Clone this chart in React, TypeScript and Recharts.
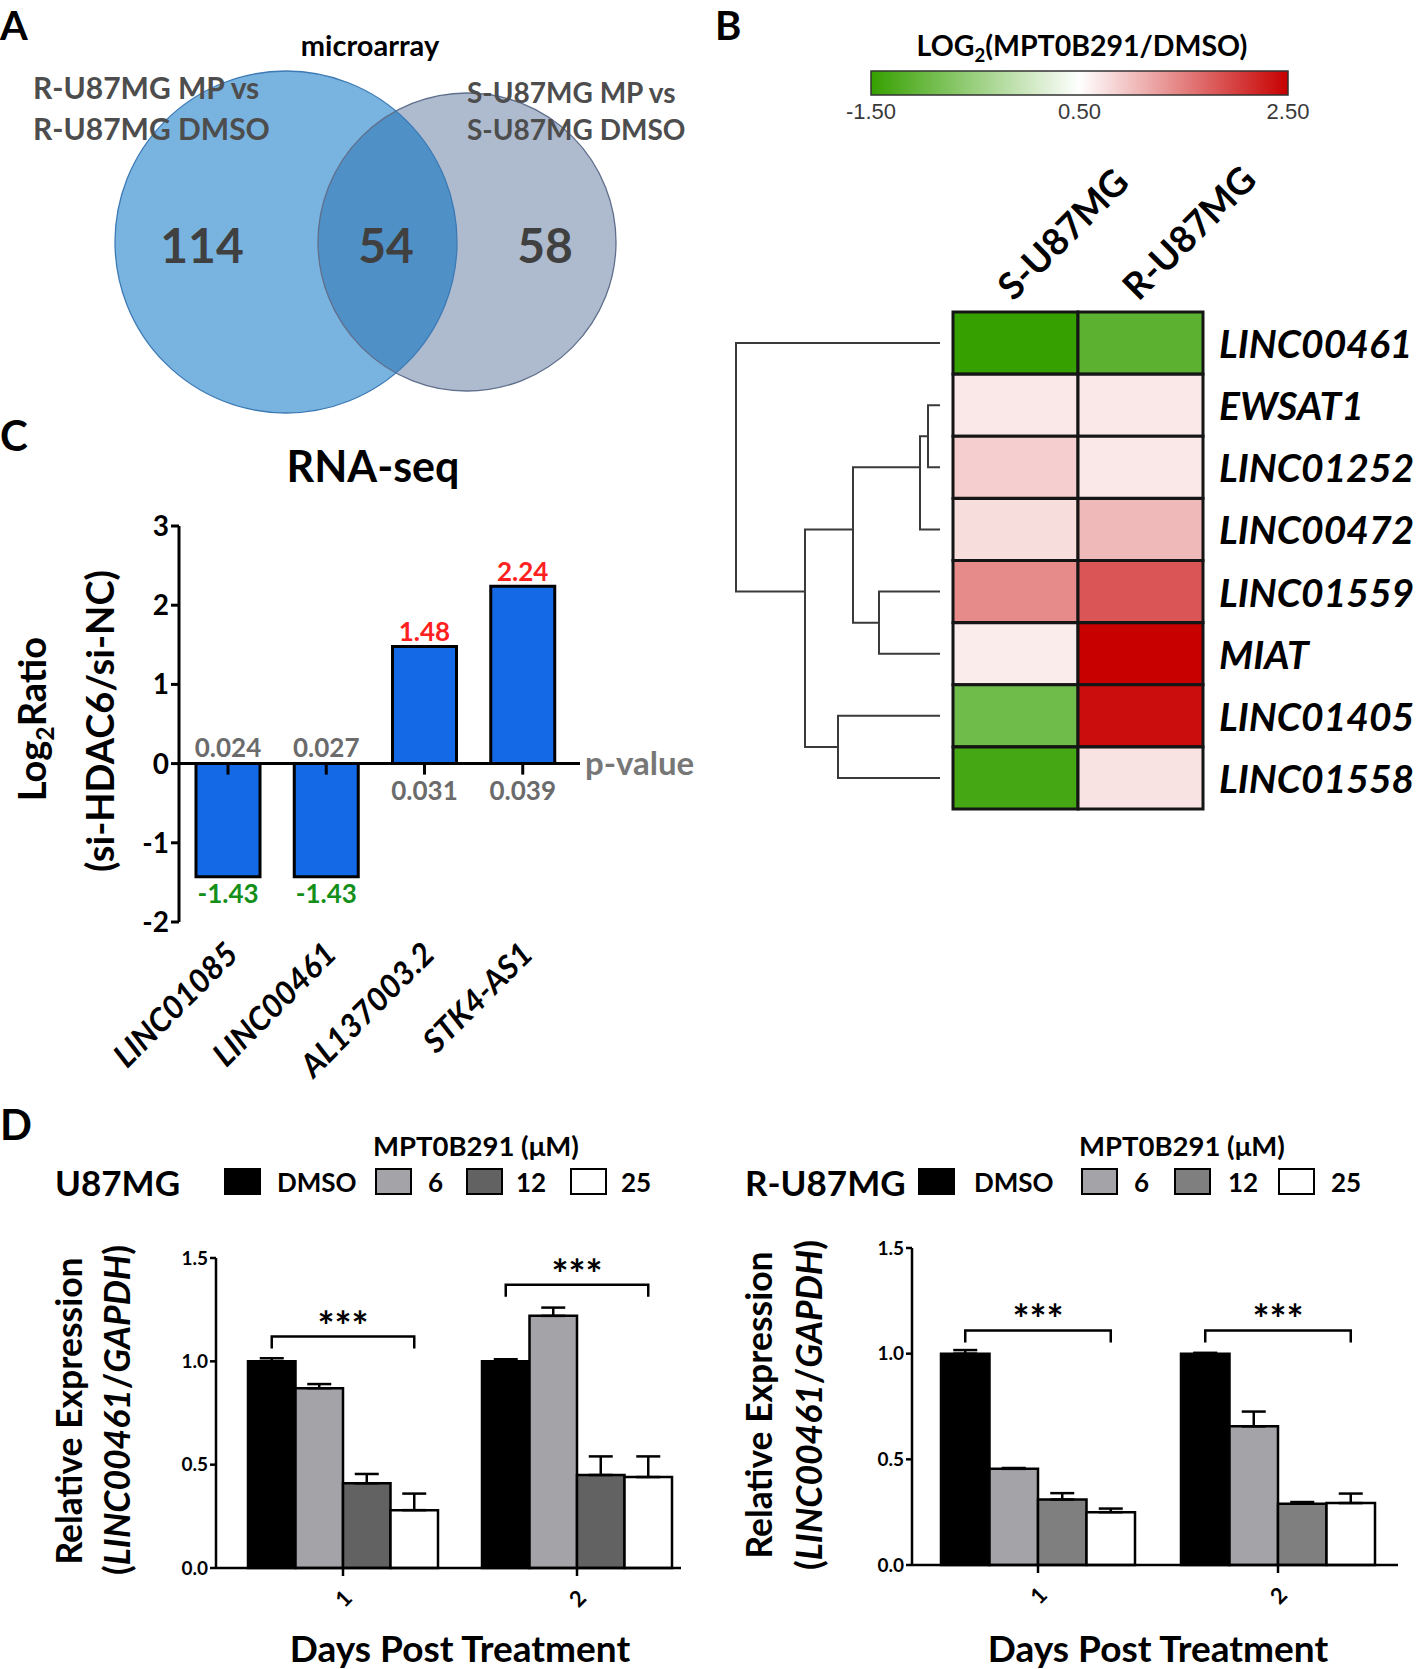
import React from 'react';
import {
  BarChart, Bar, XAxis, YAxis, Cell, LabelList, ErrorBar, ReferenceLine,
  ScatterChart, Scatter, ReferenceArea,
} from 'recharts';

const FONT = 'Lato, "Open Sans", sans-serif';

// A - microarray overlap
const vennSets = ['R-U87MG MP vs', 'R-U87MG DMSO', 'S-U87MG MP vs', 'S-U87MG DMSO'];
const vennCounts = [114, 54, 58]; // R only, both, S only

// B - heatmap
const heatCols = ['S-U87MG', 'R-U87MG'];
const heatGenes = ['LINC00461', 'EWSAT1', 'LINC01252', 'LINC00472', 'LINC01559', 'MIAT', 'LINC01405', 'LINC01558'];
const heatS = [-1.5, 0.68, 0.88, 0.77, 1.42, 0.65, -0.92, -1.35];
const heatR = [-1.12, 0.68, 0.68, 1.05, 1.83, 2.5, 2.4, 0.73];
const scaleTicks = [-1.5, 0.5, 2.5];
// [child a, child b, height]; leaves are 0..7, merged nodes numbered from 8
const dendroMerges = [[1, 2, 12], [8, 3, 20], [4, 5, 61], [9, 10, 87], [6, 7, 102], [11, 12, 135], [0, 13, 204]];

// C - RNA-seq
const rnaGenes = ['LINC01085', 'LINC00461', 'AL137003.2', 'STK4-AS1'];
const rnaRatio = [-1.43, -1.43, 1.48, 2.24];
const rnaP = ['0.024', '0.027', '0.031', '0.039'];

// D - qPCR
const days = ['1', '2'];
const doses = ['DMSO', '6', '12', '25'];
const u87Mean = [[1.0, 0.87, 0.41, 0.28], [1.0, 1.22, 0.45, 0.44]];
const u87Err = [[0.015, 0.02, 0.045, 0.08], [0.01, 0.04, 0.09, 0.1]];
const u87Sig = [1.12, 1.37];
const rMean = [[1.0, 0.455, 0.31, 0.25], [1.0, 0.656, 0.29, 0.293]];
const rErr = [[0.017, 0.004, 0.03, 0.017], [0.004, 0.07, 0.008, 0.045]];
const rSig = [1.11, 1.11];

// geometry of the venn (px, 1:1 with the chart domain)
const VENN = [
  { key: 'S', x: 467, y: 242, r: 149, fill: '#aebacd', stroke: '#5f6f8c' },
  { key: 'R', x: 286, y: 242, r: 171, fill: '#79b3df', stroke: '#3d7ab5' },
];
const VENN_NUM_POS = [{ x: 202, y: 244 }, { x: 386, y: 244 }, { x: 545, y: 244 }];

function heatColor(v: number): string {
  if (v >= 0.5) {
    const t = Math.min(1, (v - 0.5) / 2);
    return `rgb(${Math.round(255 - 55 * t)},${Math.round(255 - 255 * t)},${Math.round(255 - 255 * t)})`;
  }
  const t = Math.min(1, (0.5 - v) / 2);
  return `rgb(${Math.round(255 - 201 * t)},${Math.round(255 - 95 * t)},${Math.round(255 - 255 * t)})`;
}

const heatRows = heatGenes.map((gene, i) => ({ gene, s: 1, r: 1, sv: heatS[i], rv: heatR[i] }));

type DNode = { y: number; h: number; leaves: number[] };
const dNodes: DNode[] = heatGenes.map((_, i) => ({ y: i, h: 0, leaves: [i] }));
const dLinks = dendroMerges.map(([a, b, h]) => {
  const A = dNodes[a];
  const B = dNodes[b];
  const leaves = [...A.leaves, ...B.leaves];
  dNodes.push({ y: leaves.reduce((s, v) => s + v, 0) / leaves.length, h, leaves });
  return [{ h: A.h, y: A.y }, { h, y: A.y }, { h, y: B.y }, { h: B.h, y: B.y }];
});

const rnaRows = rnaGenes.map((gene, i) => ({ gene, ratio: rnaRatio[i], p: rnaP[i] }));

function qpcrRows(mean: number[][], err: number[][], sig: number[]) {
  return days.map((day, i) => {
    const row: any = { day, sig: sig[i] };
    doses.forEach((_, j) => {
      row[`d${j}`] = mean[i][j];
      row[`e${j}`] = [0, err[i][j]];
    });
    return row;
  });
}

const Txt = ({ x, y, size, children, anchor = 'start', weight = 700, color = '#000', italic = false, rotate = 0, family = FONT }: any) => {
  const tx = rotate ? '-50%' : anchor === 'middle' ? '-50%' : anchor === 'end' ? '-100%' : '0';
  return (
    <div style={{
      position: 'absolute', left: x, top: y, fontSize: size, fontWeight: weight, color,
      fontStyle: italic ? 'italic' : 'normal', fontFamily: family, lineHeight: 1, whiteSpace: 'nowrap',
      transform: `translate(${tx}, -50%)${rotate ? ` rotate(${rotate}deg)` : ''}`,
    }}>{children}</div>
  );
};

const noDot = () => <g />;

// ---------- A
const VennDisk = (p: any) => {
  const { cx, cy, payload } = p;
  return (
    <g>
      <circle cx={cx} cy={cy} r={payload.r} fill={payload.fill} />
      {payload.key === 'R' && <circle cx={cx} cy={cy} r={payload.r} fill="#4f90c6" clipPath="url(#vennClip)" />}
    </g>
  );
};
const VennRing = (p: any) => (
  <circle cx={p.cx} cy={p.cy} r={p.payload.r} fill="none" stroke={p.payload.stroke} strokeWidth={1.3} />
);
const VennNum = (p: any) => (
  <text x={p.cx} y={p.cy} textAnchor="middle" dominantBaseline="central" fontSize={48} fontWeight={700}
    fill="#404040" fontFamily={FONT}>{p.payload.n}</text>
);

const VennPanel = () => (
  <div style={{ position: 'absolute', left: 0, top: 0 }}>
    <ScatterChart width={700} height={430} margin={{ top: 0, right: 0, bottom: 0, left: 0 }}>
      <defs>
        <clipPath id="vennClip">
          <circle cx={VENN[0].x} cy={VENN[0].y} r={VENN[0].r} />
        </clipPath>
      </defs>
      <XAxis type="number" dataKey="x" domain={[0, 700]} hide />
      <YAxis type="number" dataKey="y" domain={[0, 430]} reversed hide />
      <Scatter data={VENN} shape={VennDisk} isAnimationActive={false} />
      <Scatter data={VENN} shape={VennRing} isAnimationActive={false} />
      <Scatter data={vennCounts.map((n, i) => ({ n, ...VENN_NUM_POS[i] }))} shape={VennNum} isAnimationActive={false} />
    </ScatterChart>
  </div>
);

// ---------- B
const ColTick = ({ x, y, payload }: any) => {
  const tx = x - 2;
  const ty = y - 2;
  return (
    <text x={tx} y={ty} transform={`rotate(-45 ${tx} ${ty})`} fontSize={37} fontWeight={700}
      fontFamily={FONT} fill="#000">{heatCols[Math.floor(payload.value)]}</text>
  );
};
const RowTick = ({ x, y, payload }: any) => (
  <text x={x + 8} y={y} dominantBaseline="central" fontSize={39} fontWeight={700} fontStyle="italic"
    fontFamily={FONT} fill="#000">{payload.value}</text>
);

const HeatmapPanel = () => (
  <>
    <div style={{ position: 'absolute', left: 820, top: 60 }}>
      <ScatterChart width={520} height={70} margin={{ top: 11, right: 52, bottom: 0, left: 51 }}>
        <defs>
          <linearGradient id="heatGrad" x1="0" y1="0" x2="1" y2="0">
            <stop offset="0%" stopColor={heatColor(-1.5)} />
            <stop offset="50%" stopColor="#ffffff" />
            <stop offset="100%" stopColor={heatColor(2.5)} />
          </linearGradient>
        </defs>
        <XAxis type="number" dataKey="v" domain={[-1.5, 2.5]} ticks={scaleTicks} height={35} interval={0}
          axisLine={false} tickLine={false} tickFormatter={(v: number) => v.toFixed(2)}
          tick={{ fontSize: 22, fill: '#3a3a3a', fontFamily: '"Liberation Sans Narrow", "Liberation Sans", Arial' }} />
        <YAxis type="number" dataKey="y" domain={[0, 1]} hide />
        <ReferenceArea x1={-1.5} x2={2.5} y1={0} y2={1} fill="url(#heatGrad)" fillOpacity={1} stroke="#333" strokeWidth={1.5} />
        <Scatter data={scaleTicks.map((v) => ({ v, y: 0.5 }))} shape={noDot} isAnimationActive={false} />
      </ScatterChart>
    </div>

    <div style={{ position: 'absolute', left: 726, top: 307 }}>
      <ScatterChart width={219} height={507} margin={{ top: 5, right: 5, bottom: 5, left: 5 }}>
        <XAxis type="number" dataKey="h" domain={[0, 209]} reversed hide />
        <YAxis type="number" dataKey="y" domain={[-0.5, 7.5]} reversed hide />
        {dLinks.map((pts, i) => (
          <Scatter key={i} data={pts} shape={noDot} line={{ stroke: '#3a3a3a', strokeWidth: 2 }}
            lineType="joint" isAnimationActive={false} />
        ))}
      </ScatterChart>
    </div>

    <div style={{ position: 'absolute', left: 900, top: 150 }}>
      <BarChart width={516} height={670} layout="vertical" data={heatRows} barCategoryGap={0} barGap={0}
        margin={{ top: 12, right: 13, bottom: 11, left: 53 }}>
        <XAxis type="number" orientation="top" domain={[0, 2]} ticks={[0.5, 1.5]} height={150}
          axisLine={false} tickLine={false} tick={<ColTick />} />
        <YAxis type="category" dataKey="gene" orientation="right" width={200}
          axisLine={false} tickLine={false} tick={<RowTick />} interval={0} />
        <Bar dataKey="s" stackId="h" stroke="#151515" strokeWidth={3} isAnimationActive={false}>
          {heatRows.map((r) => <Cell key={r.gene} fill={heatColor(r.sv)} />)}
        </Bar>
        <Bar dataKey="r" stackId="h" stroke="#151515" strokeWidth={3} isAnimationActive={false}>
          {heatRows.map((r) => <Cell key={r.gene} fill={heatColor(r.rv)} />)}
        </Bar>
      </BarChart>
    </div>
  </>
);

// ---------- C
const RatioLabel = (p: any) => {
  const { x, y, width, height, value, index } = p;
  const top = Math.min(y, y + height);
  const bottom = Math.max(y, y + height);
  const cx = x + width / 2;
  const neg = value < 0;
  const zeroY = neg ? top : bottom;
  return (
    <g fontFamily={FONT} fontWeight={700} fontSize={26} textAnchor="middle">
      <line x1={cx} x2={cx} y1={zeroY} y2={zeroY + 11} stroke="#000" strokeWidth={3} />
      <text x={cx} y={neg ? bottom + 16 : top - 15} dominantBaseline="central" fill={neg ? '#14901a' : '#ff2020'}>
        {value.toFixed(2)}
      </text>
      <text x={cx} y={neg ? zeroY - 17 : zeroY + 26} dominantBaseline="central" fill="#6b6b6b">
        {rnaP[index]}
      </text>
    </g>
  );
};
const CatTick = ({ x, y, payload }: any) => {
  const tx = x + 12;
  const ty = y + 26;
  return (
    <text x={tx} y={ty} transform={`rotate(-45 ${tx} ${ty})`} textAnchor="end" fontSize={32}
      fontWeight={700} fontStyle="italic" fontFamily={FONT} fill="#000">{payload.value}</text>
  );
};

const RnaSeqPanel = () => (
  <div style={{ position: 'absolute', left: 0, top: 480 }}>
    <BarChart width={700} height={620} data={rnaRows} margin={{ top: 46, right: 120, bottom: 28, left: 119 }}>
      <XAxis dataKey="gene" height={150} axisLine={false} tickLine={false} interval={0}
        padding={{ left: 0, right: 8 }} tick={<CatTick />} />
      <YAxis type="number" domain={[-2, 3]} ticks={[-2, -1, 0, 1, 2, 3]} width={60}
        axisLine={{ stroke: '#000', strokeWidth: 3 }} tickLine={{ stroke: '#000', strokeWidth: 3 }} tickSize={8}
        tick={{ fontSize: 28, fontWeight: 700, fill: '#000', fontFamily: FONT }} />
      <Bar dataKey="ratio" fill="#1469e6" stroke="#000" strokeWidth={3} barSize={64} isAnimationActive={false}>
        <LabelList dataKey="ratio" content={RatioLabel} />
      </Bar>
      <ReferenceLine y={0} stroke="#000" strokeWidth={3}
        label={{ value: 'p-value', position: 'right', fill: '#777', fontSize: 33, fontWeight: 700, fontFamily: FONT }} />
    </BarChart>
  </div>
);

// ---------- D
const DOSE_FILLS_L = ['#000000', '#a3a3a8', '#626262', '#ffffff'];
const DOSE_FILLS_R = ['#000000', '#a3a3a8', '#7f7f7f', '#ffffff'];

const DayTick = ({ x, y, payload }: any) => {
  const ty = y + 20;
  return (
    <text x={x} y={ty} transform={`rotate(-45 ${x} ${ty})`} textAnchor="middle" dominantBaseline="central"
      fontSize={22} fontWeight={700} fontFamily={FONT} fill="#000">{payload.value}</text>
  );
};

const makeBracket = (sig: number[]) => (p: any) => {
  const { x, y, width, height, value, index } = p;
  const zero = y + height;
  const perUnit = height / value;
  const by = zero - sig[index] * perUnit;
  const x2 = x + width / 2;
  const x1 = x2 - 3 * width;
  return (
    <g>
      <path d={`M${x1},${by + 12} V${by} H${x2} V${by + 12}`} fill="none" stroke="#000" strokeWidth={2.5} />
      <text x={(x1 + x2) / 2} y={by + 4} textAnchor="middle" fontSize={40} fontWeight={700}
        fontFamily={FONT} fill="#000">***</text>
    </g>
  );
};

const QpcrChart = ({ rows, fills, sig, width, height, margin, barSize, pad }: any) => (
  <BarChart width={width} height={height} data={rows} margin={margin} barGap={0}>
    <XAxis dataKey="day" height={60} padding={pad} tickSize={8}
      axisLine={{ stroke: '#000', strokeWidth: 2.5 }} tickLine={{ stroke: '#000', strokeWidth: 2.5 }}
      tick={<DayTick />} />
    <YAxis type="number" domain={[0, 1.5]} ticks={[0, 0.5, 1, 1.5]} width={50} tickSize={6}
      tickFormatter={(v: number) => v.toFixed(1)}
      axisLine={{ stroke: '#000', strokeWidth: 2.5 }} tickLine={{ stroke: '#000', strokeWidth: 2.5 }}
      tick={{ fontSize: 19, fontWeight: 700, fill: '#000', fontFamily: FONT }} />
    {doses.map((d, j) => (
      <Bar key={d} dataKey={`d${j}`} fill={fills[j]} stroke="#000" strokeWidth={2.5} barSize={barSize}
        isAnimationActive={false}>
        <ErrorBar dataKey={`e${j}`} width={12} stroke="#000" strokeWidth={2.5} direction="y" />
        {j === 3 && <LabelList dataKey={`d${j}`} content={makeBracket(sig)} />}
      </Bar>
    ))}
  </BarChart>
);

const Legend = ({ titleX, squares, labels, fills }: any) => (
  <>
    <Txt x={titleX} y={1146} size={27.5}>MPT0B291 (μM)</Txt>
    {squares.map((sx: number, j: number) => (
      <div key={j} style={{
        position: 'absolute', left: sx, top: 1168, width: 37, height: 27, boxSizing: 'border-box',
        background: fills[j], border: '2.5px solid #000',
      }} />
    ))}
    {labels.map((lx: number, j: number) => (
      <Txt key={j} x={lx} y={1182} size={26}>{doses[j]}</Txt>
    ))}
  </>
);

export default function App() {
  return (
    <div style={{
      position: 'absolute', left: 0, top: 0, width: 1416, height: 1669, background: '#fff',
      fontFamily: FONT, overflow: 'hidden',
    }}>
      {/* A */}
      <VennPanel />
      <Txt x={0} y={25} size={40}>A</Txt>
      <Txt x={370} y={44} size={29} anchor="middle">microarray</Txt>
      <Txt x={33} y={87} size={30} color="#4d4d4d">{vennSets[0]}</Txt>
      <Txt x={33} y={128} size={30} color="#4d4d4d">{vennSets[1]}</Txt>
      <Txt x={467} y={92} size={28} color="#4d4d4d">{vennSets[2]}</Txt>
      <Txt x={467} y={129} size={28} color="#4d4d4d">{vennSets[3]}</Txt>

      {/* B */}
      <HeatmapPanel />
      <Txt x={715} y={25} size={40}>B</Txt>
      <Txt x={1082} y={48} size={28.5} anchor="middle">
        LOG<sub style={{ fontSize: '0.65em', verticalAlign: '-0.3em' }}>2</sub>(MPT0B291/DMSO)
      </Txt>

      {/* C */}
      <RnaSeqPanel />
      <Txt x={0} y={435} size={42}>C</Txt>
      <Txt x={373} y={465} size={43} anchor="middle">RNA-seq</Txt>
      <Txt x={35} y={719} size={38} rotate={-90}>
        Log<sub style={{ fontSize: '0.65em', verticalAlign: '-0.3em' }}>2</sub>Ratio
      </Txt>
      <Txt x={99} y={721} size={38} rotate={-90}>(si-HDAC6/si-NC)</Txt>

      {/* D */}
      <Txt x={0} y={1124} size={42}>D</Txt>
      <Txt x={55} y={1182} size={35}>U87MG</Txt>
      <Legend titleX={373} squares={[224, 375, 466, 570]} labels={[277, 428, 516, 621]} fills={DOSE_FILLS_L} />
      <Txt x={745} y={1182} size={35}>R-U87MG</Txt>
      <Legend titleX={1079} squares={[918, 1081, 1174, 1278]} labels={[974, 1134, 1228, 1331]} fills={DOSE_FILLS_R} />

      <div style={{ position: 'absolute', left: 0, top: 1220 }}>
        <QpcrChart rows={qpcrRows(u87Mean, u87Err, u87Sig)} fills={DOSE_FILLS_L} sig={u87Sig}
          width={700} height={449} margin={{ top: 38, right: 19, bottom: 41, left: 166 }} barSize={47.5}
          pad={{ left: 10, right: -13 }} />
      </div>
      <div style={{ position: 'absolute', left: 700, top: 1210 }}>
        <QpcrChart rows={qpcrRows(rMean, rErr, rSig)} fills={DOSE_FILLS_R} sig={rSig}
          width={716} height={459} margin={{ top: 38, right: 18, bottom: 44, left: 162 }} barSize={48.5}
          pad={{ left: 6, right: 0 }} />
      </div>
      <Txt x={69} y={1411} size={35.5} rotate={-90}>Relative Expression</Txt>
      <Txt x={117} y={1410} size={35.5} rotate={-90}>(<i>LINC00461</i>/<i>GAPDH</i>)</Txt>
      <Txt x={759} y={1405} size={35.5} rotate={-90}>Relative Expression</Txt>
      <Txt x={809} y={1405} size={35.5} rotate={-90}>(<i>LINC00461</i>/<i>GAPDH</i>)</Txt>
      <Txt x={460} y={1647} size={37} anchor="middle">Days Post Treatment</Txt>
      <Txt x={1158} y={1647} size={37} anchor="middle">Days Post Treatment</Txt>
    </div>
  );
}
